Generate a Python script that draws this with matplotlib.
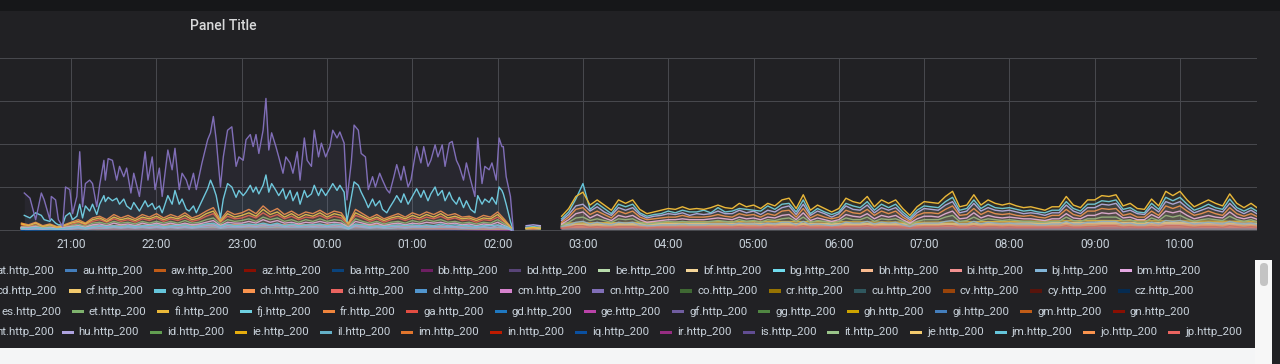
import numpy as np
import matplotlib
matplotlib.use("Agg")
import matplotlib.pyplot as plt
from matplotlib.patches import Rectangle, FancyBboxPatch

plt.rcParams['font.family'] = ['Roboto', 'DejaVu Sans']

# ---- data (minutes after 20:00) ----
hour_ticks = [0, 60, 120, 180, 240, 300, 360, 420, 480, 540, 600, 660, 720, 780, 840]
hour_labels = ["20:00", "21:00", "22:00", "23:00", "00:00", "01:00", "02:00", "03:00",
               "04:00", "05:00", "06:00", "07:00", "08:00", "09:00", "10:00"]

# the two big series of the first half (cn purple, fj cyan)
fine_t = [27, 31, 35, 39, 41, 45, 46, 49, 51, 54,
          56, 59, 61, 64, 66, 68, 70, 73, 75, 78,
          80, 83, 84, 86, 89, 92, 94, 97, 99, 102,
          104, 108, 112, 114, 117, 119, 122, 124, 128, 131,
          133, 136, 138, 141, 143, 146, 148, 152, 156, 158,
          160, 162, 165, 167, 170, 173, 176, 178, 181, 183,
          186, 188, 190, 192, 195, 197, 199, 201, 204, 206,
          209, 211, 214, 216, 219, 221, 224, 226, 229, 231,
          234, 236, 239, 242, 244, 247, 249, 252, 254, 257,
          259, 262, 264, 267, 269, 272, 274, 277, 279, 282,
          284, 287, 289, 292, 294, 297, 299, 303, 306, 308,
          311, 313, 316, 318, 321, 323, 326, 328, 331, 333,
          336, 338, 341, 344, 346, 349, 351, 354, 356, 359,
          361, 363, 364, 366, 369, 371]
cn_vals = [43, 37, 12, 43, 35, 12, 39, 35, 12, 4,
           50, 47, 19, 39, 91, 27, 54, 58, 54, 27,
           52, 81, 58, 83, 81, 58, 74, 62, 72, 43,
           66, 39, 91, 58, 85, 47, 72, 39, 93, 70,
           95, 47, 66, 58, 47, 66, 47, 78, 105, 113,
           132, 105, 50, 85, 116, 120, 74, 85, 81, 105,
           111, 97, 111, 89, 116, 153, 93, 113, 97, 85,
           66, 85, 78, 66, 91, 58, 107, 81, 74, 116,
           85, 101, 85, 97, 116, 107, 114, 101, 35, 78,
           122, 116, 89, 85, 47, 62, 50, 66, 58, 47,
           43, 62, 76, 58, 74, 50, 58, 97, 78, 97,
           74, 81, 99, 85, 99, 74, 101, 103, 81, 74,
           58, 78, 58, 39, 107, 54, 74, 70, 78, 58,
           107, 97, 97, 62, 39, 0]
fj_vals = [17, 14, 20, 17, 12, 10, 13, 8, 6, 6,
           16, 20, 12, 16, 30, 14, 28, 22, 30, 18,
           30, 40, 33, 38, 34, 37, 30, 36, 28, 24,
           32, 22, 34, 27, 31, 24, 28, 20, 40, 30,
           46, 30, 36, 24, 22, 28, 20, 34, 48, 58,
           50, 40, 14, 36, 54, 50, 38, 46, 40, 44,
           52, 44, 50, 42, 52, 64, 44, 54, 46, 40,
           48, 36, 46, 34, 44, 30, 46, 38, 42, 52,
           40, 48, 40, 48, 54, 46, 52, 44, 10, 38,
           56, 52, 44, 34, 26, 36, 28, 34, 24, 20,
           26, 34, 40, 32, 42, 30, 36, 48, 38, 46,
           34, 42, 50, 40, 46, 34, 44, 36, 30, 38,
           26, 34, 24, 20, 40, 30, 36, 32, 38, 30,
           50, 46, 42, 30, 10, 0]

# band series on a 5 minute grid 20:25 .. 10:55 (None = no data)
band_t = list(range(25, 900, 5))
fi_vals = ([7, 5, 8, 4, 6, 3, 5, 8, 10, 7, 12, 14, 10, 15, 12, 14, 11, 15, 13, 16,
            12, 15, 13, 17, 12, 14, 19, 22, 10, 19, 15, 17, 20, 16, 24, 18, 21, 15, 19, 14,
            18, 16, 20, 15, 19, 17, 7, 20, 16, 12, 15, 11, 14, 16, 13, 17, 14, 18, 15, 19,
            14, 16, 13, 14, 11, 14, 13, 18, 10, 2]
           + [None, 2, 3, 2, None, None]
           + [16, 25, 39, 44, 29, 35, 29, 23, 35, 31, 35, 24, 19, 21, 23, 25, 24, 27, 24, 25,
              24, 26, 29, 26, 25, 31, 27, 29, 25, 31, 28, 35, 37, 25, 41, 23, 29, 25, 21, 25,
              37, 33, 31, 39, 27, 35, 31, 35, 25, 17, 27, 33, 32, 31, 39, 45, 27, 29, 41, 29,
              35, 31, 29, 31, 28, 26, 27, 25, 23, 27, 27, 39, 29, 26, 35, 35, 40, 39, 41, 28,
              31, 25, 24, 36, 28, 45, 40, 45, 35, 27, 31, 35, 31, 28, 42, 31, 26, 31, 25])
jm_vals = ([2, 2, 3, 2, 2, 1, 2, 3, 4, 2, 4, 5, 4, 5, 4, 5, 4, 5, 5, 6,
            4, 5, 5, 6, 4, 5, 7, 8, 4, 7, 5, 6, 7, 6, 8, 6, 8, 5, 7, 5,
            6, 6, 7, 5, 7, 6, 2, 7, 6, 4, 5, 4, 5, 6, 5, 6, 5, 6, 5, 7,
            5, 6, 5, 5, 4, 5, 5, 6, 4, 1]
           + [None, 3, 4, 3, None, None]
           + [13, 21, 36, 54, 24, 31, 25, 19, 30, 27, 30, 20, 16, 18, 19, 22, 20, 23, 21, 21,
              23, 20, 26, 21, 22, 25, 24, 23, 22, 28, 24, 30, 31, 21, 35, 19, 25, 21, 18, 21,
              31, 28, 26, 33, 23, 30, 26, 30, 21, 14, 23, 28, 27, 26, 33, 38, 23, 25, 35, 25,
              30, 26, 25, 26, 24, 22, 23, 21, 20, 23, 23, 33, 25, 22, 30, 30, 34, 33, 35, 24,
              26, 21, 20, 31, 24, 38, 34, 38, 30, 23, 26, 30, 26, 24, 36, 26, 22, 26, 21])
hu_vals = ([2, 1, 2, 1, 2, 1, 1, 2, 3, 2, 3, 4, 3, 4, 3, 4, 3, 4, 3, 4,
            3, 4, 3, 4, 3, 4, 5, 6, 3, 5, 4, 4, 5, 4, 6, 5, 6, 4, 5, 4,
            5, 4, 5, 4, 5, 4, 2, 5, 4, 3, 4, 3, 4, 4, 3, 4, 4, 5, 4, 5,
            4, 4, 3, 4, 3, 4, 3, 5, 3, 0]
           + [None, 5, 6, 5, None, None]
           + [11, 18, 28, 30, 22, 27, 21, 17, 26, 23, 26, 18, 14, 16, 17, 19, 18, 20, 17, 19,
              18, 19, 22, 19, 19, 23, 20, 22, 18, 23, 21, 26, 28, 18, 30, 17, 22, 19, 15, 19,
              28, 24, 23, 29, 20, 26, 23, 26, 18, 12, 20, 25, 24, 23, 29, 33, 20, 22, 31, 22,
              26, 23, 22, 23, 21, 19, 20, 19, 17, 20, 20, 29, 22, 19, 26, 26, 30, 29, 31, 21,
              23, 19, 18, 27, 21, 33, 30, 33, 26, 20, 23, 26, 23, 21, 31, 23, 19, 23, 18])
fr_vals = ([8, 6, 9, 5, 7, 4, 6, 9, 12, 8, 14, 16, 12, 18, 14, 17, 13, 18, 15, 19,
            14, 18, 15, 20, 14, 17, 22, 26, 12, 22, 18, 20, 24, 19, 28, 21, 25, 18, 22, 17,
            21, 19, 23, 18, 22, 20, 8, 24, 19, 14, 18, 13, 16, 19, 15, 20, 17, 21, 18, 22,
            17, 19, 15, 16, 13, 17, 15, 21, 12, 2]
           + [None, 2, 2, 4, None, None]
           + [9, 15, 24, 26, 18, 22, 18, 14, 22, 19, 22, 15, 12, 13, 14, 15, 15, 17, 15, 15,
              15, 16, 18, 16, 15, 19, 17, 18, 15, 19, 17, 22, 23, 15, 25, 14, 18, 15, 13, 15,
              23, 20, 19, 24, 17, 22, 19, 22, 15, 10, 17, 20, 20, 19, 24, 28, 17, 18, 25, 18,
              22, 19, 18, 19, 17, 16, 17, 15, 14, 17, 17, 24, 18, 16, 22, 22, 25, 24, 25, 17,
              19, 15, 15, 22, 17, 28, 25, 28, 22, 17, 19, 22, 19, 17, 26, 19, 16, 19, 15])
ga_vals = ([6, 4, 6, 4, 5, 3, 4, 6, 9, 6, 10, 12, 9, 13, 10, 12, 9, 13, 11, 14,
            10, 13, 11, 14, 10, 12, 16, 19, 9, 16, 13, 14, 17, 14, 20, 15, 18, 13, 16, 12,
            15, 14, 17, 13, 16, 14, 6, 17, 14, 10, 13, 9, 12, 14, 11, 14, 12, 15, 13, 16,
            12, 14, 11, 12, 9, 12, 11, 15, 9, 1]
           + [None, 1, 1, 1, None, None]
           + [2, 3, 5, 5, 3, 4, 3, 3, 4, 4, 4, 3, 2, 3, 3, 3, 3, 3, 3, 3,
              3, 3, 3, 3, 3, 4, 3, 3, 3, 4, 3, 4, 4, 3, 5, 3, 3, 3, 3, 3,
              4, 4, 4, 5, 3, 4, 4, 4, 3, 2, 3, 4, 4, 4, 5, 5, 3, 3, 5, 3,
              4, 4, 3, 4, 3, 3, 3, 3, 3, 3, 3, 5, 3, 3, 4, 4, 5, 5, 5, 3,
              4, 3, 3, 4, 3, 5, 5, 5, 4, 3, 4, 4, 4, 3, 5, 4, 3, 4, 3])
et_vals = ([4, 3, 5, 3, 4, 2, 3, 5, 7, 4, 8, 9, 7, 10, 8, 9, 7, 10, 8, 10,
            8, 10, 8, 11, 8, 9, 12, 14, 7, 12, 10, 11, 13, 10, 15, 12, 14, 10, 12, 9,
            12, 10, 13, 10, 12, 11, 4, 13, 10, 8, 10, 7, 9, 10, 8, 11, 9, 12, 10, 12,
            9, 10, 8, 9, 7, 9, 8, 12, 7, 1]
           + [None, 1, 2, 1, None, None]
           + [5, 9, 14, 15, 11, 13, 11, 9, 13, 12, 13, 9, 7, 8, 9, 10, 9, 10, 9, 9,
              9, 10, 11, 10, 9, 12, 10, 11, 9, 12, 11, 13, 14, 10, 15, 9, 11, 10, 8, 10,
              14, 12, 12, 15, 10, 13, 12, 13, 10, 6, 10, 12, 12, 12, 15, 17, 10, 11, 15, 11,
              13, 12, 11, 12, 11, 10, 10, 9, 9, 10, 10, 15, 11, 10, 13, 13, 15, 15, 15, 11,
              12, 9, 9, 14, 11, 17, 15, 17, 13, 10, 12, 13, 12, 11, 16, 12, 10, 12, 9])
bm_vals = ([3, 3, 4, 2, 3, 2, 3, 4, 5, 3, 6, 7, 5, 8, 6, 7, 5, 8, 6, 8,
            6, 8, 6, 8, 6, 7, 9, 11, 5, 9, 8, 8, 10, 8, 12, 9, 11, 8, 9, 7,
            9, 8, 10, 8, 9, 8, 3, 10, 8, 6, 8, 5, 7, 8, 6, 8, 7, 9, 8, 9,
            7, 8, 6, 7, 5, 7, 6, 9, 5, 1]
           + [None, 3, 3, 2, None, None]
           + [7, 12, 19, 21, 14, 18, 14, 11, 17, 15, 17, 12, 9, 10, 11, 12, 12, 13, 12, 12,
              12, 13, 14, 13, 12, 15, 13, 14, 12, 15, 14, 17, 18, 12, 20, 11, 14, 12, 10, 12,
              18, 16, 15, 19, 13, 17, 15, 17, 12, 8, 13, 16, 16, 15, 19, 22, 13, 14, 20, 14,
              17, 15, 14, 15, 14, 13, 13, 12, 11, 13, 13, 19, 14, 13, 17, 17, 20, 19, 20, 14,
              15, 12, 12, 18, 14, 22, 20, 22, 17, 13, 15, 17, 15, 14, 21, 15, 13, 15, 12])
bj_vals = ([1, 1, 1, 1, 1, 1, 1, 1, 2, 1, 2, 2, 2, 3, 2, 3, 2, 3, 2, 3,
            2, 3, 2, 3, 2, 3, 3, 4, 2, 3, 3, 3, 4, 3, 4, 3, 4, 3, 3, 3,
            3, 3, 3, 3, 3, 3, 1, 4, 3, 2, 3, 2, 2, 3, 2, 3, 3, 3, 3, 3,
            3, 3, 2, 2, 2, 3, 2, 3, 2, 0]
           + [None, 2, 2, 2, None, None]
           + [4, 6, 9, 10, 7, 9, 7, 6, 9, 8, 9, 6, 5, 5, 6, 6, 6, 7, 6, 6,
              6, 7, 7, 7, 6, 8, 7, 7, 6, 8, 7, 9, 9, 6, 10, 6, 7, 6, 5, 6,
              9, 8, 8, 10, 7, 9, 8, 9, 6, 4, 7, 8, 8, 8, 10, 11, 7, 7, 10, 7,
              9, 8, 7, 8, 7, 7, 7, 6, 6, 7, 7, 10, 7, 7, 9, 9, 10, 10, 10, 7,
              8, 6, 6, 9, 7, 11, 10, 11, 9, 7, 8, 9, 8, 7, 10, 8, 7, 8, 6])

# the many small series hugging the baseline
minor_t = [25, 90, 180, 270, 370, 390, 405, 540, 660, 780, 895]
minor_names = ["at", "au", "aw", "az", "ba", "bb", "bd", "be", "bf", "bg", "bh", "bi",
               "cd", "cf", "cg", "ch", "ci", "cl", "cm", "co", "cr", "cu", "cv", "cy", "cz",
               "es", "gd", "ge", "gf", "gg", "gh", "gi", "gm", "gn",
               "ht", "id", "ie", "il", "im", "in", "iq", "ir", "is", "it", "je", "jo", "jp"]
minor_vals = [
    [2, 3, 4, 3, 1, None, 3, 4, 3, 4, 3], [1, 2, 3, 2, 1, None, 4, 5, 4, 5, 4],
    [3, 4, 5, 5, 2, None, 2, 3, 3, 4, 3], [1, 1, 2, 2, 0, None, 1, 2, 2, 2, 1],
    [0, 1, 1, 1, 0, None, 1, 1, 2, 1, 1], [1, 2, 2, 2, 1, None, 2, 2, 3, 2, 2],
    [2, 3, 3, 4, 1, None, 3, 4, 4, 5, 4], [3, 5, 6, 5, 2, None, 6, 7, 6, 8, 7],
    [2, 4, 5, 4, 1, None, 7, 8, 7, 9, 8], [1, 3, 4, 3, 1, None, 5, 6, 5, 6, 5],
    [2, 4, 5, 5, 2, None, 4, 6, 6, 7, 6], [2, 3, 3, 3, 1, None, 3, 4, 4, 4, 3],
    [1, 2, 3, 3, 1, None, 5, 6, 5, 7, 6], [2, 3, 4, 4, 1, None, 6, 7, 7, 8, 7],
    [1, 2, 2, 2, 0, None, 3, 4, 3, 4, 4], [3, 5, 6, 6, 2, None, 4, 5, 5, 6, 5],
    [2, 4, 5, 4, 1, None, 3, 4, 3, 4, 4], [1, 2, 3, 2, 1, None, 3, 3, 4, 4, 3],
    [1, 2, 3, 3, 1, None, 5, 6, 6, 7, 6], [1, 1, 2, 2, 0, None, 2, 2, 2, 3, 2],
    [1, 2, 2, 2, 1, None, 2, 3, 3, 3, 2], [0, 1, 1, 1, 0, None, 1, 2, 1, 2, 1],
    [2, 3, 4, 3, 1, None, 2, 3, 3, 3, 3], [1, 1, 1, 1, 0, None, 1, 1, 1, 1, 1],
    [0, 1, 1, 1, 0, None, 1, 1, 1, 1, 1], [1, 2, 2, 2, 1, None, 2, 3, 3, 3, 2],
    [1, 2, 3, 2, 1, None, 2, 3, 2, 3, 3], [2, 3, 3, 3, 1, None, 3, 4, 4, 5, 4],
    [1, 2, 3, 3, 1, None, 2, 3, 3, 3, 3], [1, 2, 2, 2, 1, None, 2, 2, 3, 3, 2],
    [2, 3, 4, 3, 1, None, 4, 5, 4, 5, 5], [1, 2, 2, 2, 1, None, 3, 3, 3, 4, 3],
    [2, 3, 3, 3, 1, None, 2, 3, 3, 3, 2], [1, 1, 1, 1, 0, None, 1, 1, 1, 2, 1],
    [1, 2, 2, 2, 1, None, 2, 2, 2, 3, 2], [2, 3, 3, 3, 1, None, 3, 4, 4, 4, 3],
    [2, 4, 5, 4, 2, None, 8, 10, 9, 11, 10], [1, 2, 3, 3, 1, None, 4, 5, 4, 5, 5],
    [2, 4, 4, 4, 1, None, 3, 4, 4, 4, 3], [1, 2, 2, 2, 0, None, 1, 2, 2, 2, 1],
    [0, 1, 1, 1, 0, None, 1, 1, 1, 1, 1], [1, 1, 2, 2, 0, None, 2, 2, 2, 2, 2],
    [1, 2, 2, 2, 1, None, 2, 3, 3, 3, 2], [2, 3, 3, 3, 1, None, 4, 5, 5, 5, 4],
    [2, 3, 4, 4, 1, None, 6, 7, 6, 8, 7], [3, 4, 5, 5, 2, None, 4, 5, 5, 6, 5],
    [2, 3, 4, 3, 1, None, 3, 4, 4, 4, 3]]

# legend rows as visible in the panel (first item of each row is cut by the panel edge)
row1_names = ["at", "au", "aw", "az", "ba", "bb", "bd", "be", "bf", "bg", "bh", "bi", "bj", "bm"]
row1_colors = ["#CCA300", "#447EBC", "#C15C17", "#890F02", "#0A437C", "#6D1F62", "#584477",
               "#B7DBAB", "#F4D598", "#70DBED", "#F9BA8F", "#F29191", "#82B5D8", "#E5A8E2"]
row2_names = ["cd", "cf", "cg", "ch", "ci", "cl", "cm", "cn", "co", "cr", "cu", "cv", "cy", "cz"]
row2_colors = ["#9AC48A", "#F2C96D", "#65C5DB", "#F9934E", "#EA6460", "#5195CE", "#D683CE",
               "#806EB7", "#3F6833", "#967302", "#2F575E", "#99440A", "#58140C", "#052B51"]
row3_names = ["es", "et", "fi", "fj", "fr", "ga", "gd", "ge", "gf", "gg", "gh", "gi", "gm", "gn"]
row3_colors = ["#DEDAF7", "#7EB26D", "#EAB839", "#6ED0E0", "#EF843C", "#E24D42", "#1F78C1",
               "#BA43A9", "#705DA0", "#508642", "#CCA300", "#447EBC", "#C15C17", "#890F02"]
row4_names = ["ht", "hu", "id", "ie", "il", "im", "in", "iq", "ir", "is", "it", "je", "jm", "jo", "jp"]
row4_colors = ["#E5A8E2", "#AEA2E0", "#629E51", "#E5AC0E", "#64B0C8", "#E0752D", "#BF1B00",
               "#0A50A1", "#962D82", "#614D93", "#9AC48A", "#F2C96D", "#65C5DB", "#F9934E", "#EA6460"]

# ---- look ----
W, H = 1280, 364
PAGE_BG = "#161719"
PANEL_BG = "#212124"
GRID = "#47484d"
TEXT = "#c7d0d9"
PX = 72 / 100  # points per pixel at dpi 100

colors = {}
for names, cols in [(row1_names, row1_colors), (row2_names, row2_colors),
                    (row3_names, row3_colors), (row4_names, row4_colors)]:
    colors.update(dict(zip(names, cols)))


def to_float(vals):
    return np.array([np.nan if v is None else v for v in vals], dtype=float)


def px_to_min(px):
    # 21:00 sits at x=71.2, one hour is 85.29 px
    return 60 + (px - 71.2) * 60 / 85.29


fig = plt.figure(figsize=(W / 100, H / 100), dpi=100)
fig.patch.set_facecolor(PANEL_BG)

# background layer in pixel coordinates
bg = fig.add_axes([0, 0, 1, 1])
bg.set_xlim(0, W)
bg.set_ylim(H, 0)
bg.axis("off")
bg.set_zorder(0)
bg.add_patch(Rectangle((0, 0), W, 11, color=PAGE_BG, lw=0))
bg.add_patch(Rectangle((0, 348), 1255, H - 348, color="#f4f5f6", lw=0))
bg.add_patch(Rectangle((1255, 260), 17, H - 260, color="#f7f7f7", lw=0))
bg.add_patch(FancyBboxPatch((1260, 263), 8, 23, boxstyle="round,pad=0,rounding_size=4",
                            color="#c4c4c4", lw=0))
bg.text(223.5, 26, "Panel Title", ha="center", va="center", color="#d8d9da",
        fontsize=14 * PX, fontweight="medium")

# graph area: x from -40 px to 1257 px, y 0 at 230 px, 200 at 58 px
left_px, right_px, top_px, bot_px = -40, 1257, 56, 232
ax = fig.add_axes([left_px / W, 1 - bot_px / H, (right_px - left_px) / W, (bot_px - top_px) / H])
ax.set_zorder(1)
ax.patch.set_alpha(0)
ax.set_xlim(px_to_min(left_px), px_to_min(right_px))
ax.set_ylim(-2 * 200 / 172, 200 + 2 * 200 / 172)
for s in ax.spines.values():
    s.set_visible(False)
ax.set_yticks([])
ax.set_xticks(hour_ticks, hour_labels)
ax.tick_params(axis="x", length=0, pad=4.5, labelsize=12 * PX, labelcolor=TEXT)

for yv in [0, 50, 100, 150, 200]:
    ax.axhline(yv, color=GRID, lw=1 * PX, zorder=0.5)
ax.vlines(hour_ticks, 0, 200, color=GRID, lw=1 * PX, zorder=0.5)


def draw_series(t, vals, color, z):
    t = np.asarray(t, dtype=float)
    y = to_float(vals)
    ok = ~np.isnan(y)
    ax.fill_between(t, np.where(ok, y, 0), 0, where=ok, color=color, alpha=0.08, lw=0, zorder=z)
    ax.plot(t, y, color=color, lw=1.0, zorder=z + 0.1, solid_joinstyle="round")


z = 1
for name, vals in zip(minor_names, minor_vals):
    draw_series(minor_t, vals, colors[name], z)
    z += 0.2
for name, vals in [("ga", ga_vals), ("bj", bj_vals), ("et", et_vals), ("bm", bm_vals),
                   ("fr", fr_vals), ("hu", hu_vals), ("jm", jm_vals), ("fi", fi_vals)]:
    assert len(vals) == len(band_t), name
    draw_series(band_t, vals, colors[name], z)
    z += 0.2
draw_series(fine_t, fj_vals, colors["fj"], z)
draw_series(fine_t, cn_vals, colors["cn"], z + 0.2)

# ---- legend, drawn like the panel's flowing list ----
renderer = fig.canvas.get_renderer()
LEG_FS = 11.5 * PX
row_y = [270.5, 291, 311.7, 332.3]
row_first_end = [54.5, 56.7, 61, 54]     # right end of the cut first label
row_anchor = [65, 68.5, 71.7, 61.7]      # left of the second swatch
SW, GAP_TXT, GAP_ITEM = 12, 5.0, 11.0

for names, cols, y, first_end, anchor in zip(
        [row1_names, row2_names, row3_names, row4_names],
        [row1_colors, row2_colors, row3_colors, row4_colors],
        row_y, row_first_end, row_anchor):
    bg.text(first_end, y, names[0] + ".http_200", ha="right", va="center",
            color=TEXT, fontsize=LEG_FS)
    x = anchor
    for name, col in zip(names[1:], cols[1:]):
        bg.add_patch(Rectangle((x, y - 1.7), SW, 3.4, color=col, lw=0))
        t = bg.text(x + SW + GAP_TXT, y, name + ".http_200", ha="left", va="center",
                    color=TEXT, fontsize=LEG_FS)
        w = t.get_window_extent(renderer).width
        x = x + SW + GAP_TXT + w + GAP_ITEM

fig.savefig("out.png", dpi=100, facecolor=fig.get_facecolor())
